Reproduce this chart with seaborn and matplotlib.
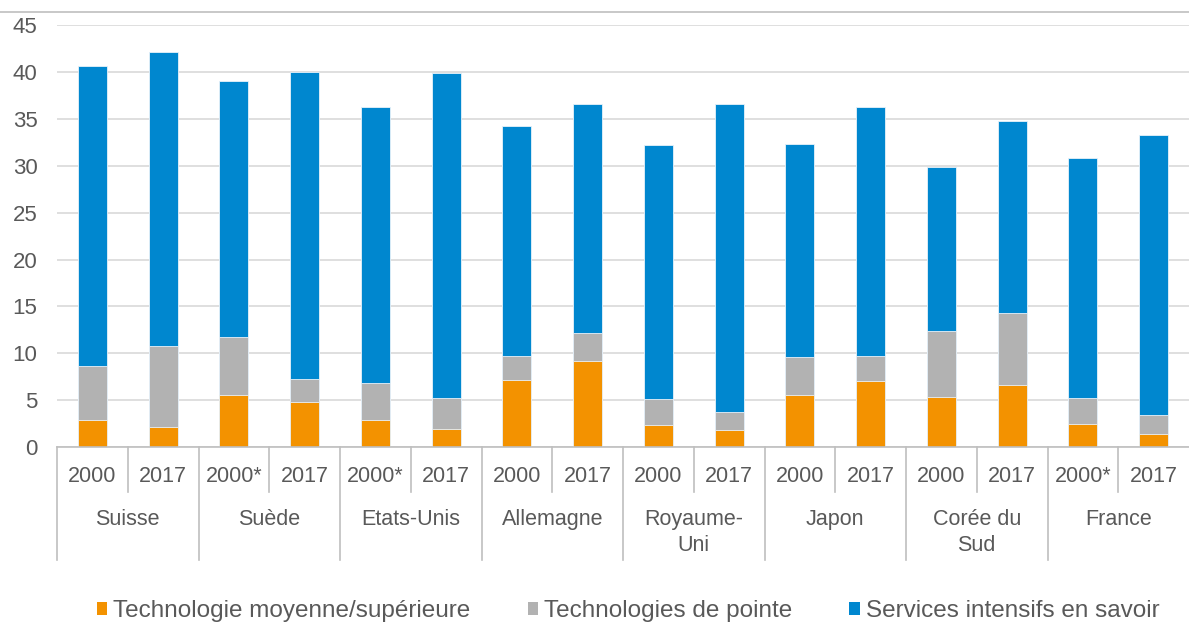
import numpy as np
import pandas as pd
import matplotlib
matplotlib.use("Agg")
import matplotlib.pyplot as plt
from matplotlib.lines import Line2D
from matplotlib.patches import Patch
import seaborn as sns

# Countries and the two years shown for each
countries = ["Suisse", "Suède", "Etats-Unis", "Allemagne", "Royaume-\nUni",
             "Japon", "Corée du\nSud", "France"]
years = ["2000", "2017", "2000*", "2017", "2000*", "2017", "2000", "2017",
         "2000", "2017", "2000", "2017", "2000", "2017", "2000*", "2017"]

# Segment values (share, %), one entry per bar
tech_moy_sup = [2.9, 2.1, 5.5, 4.8, 2.9, 1.9, 7.1, 9.2,
                2.4, 1.8, 5.6, 7.0, 5.3, 6.6, 2.5, 1.4]
tech_pointe = [5.7, 8.7, 6.2, 2.5, 3.9, 3.3, 2.6, 3.0,
               2.7, 1.9, 4.0, 2.7, 7.1, 7.7, 2.7, 2.0]
services = [32.1, 31.4, 27.4, 32.7, 29.5, 34.7, 24.6, 24.4,
            27.1, 32.9, 22.7, 26.6, 17.5, 20.5, 25.6, 29.9]

series_names = ["Technologie moyenne/supérieure", "Technologies de pointe",
                "Services intensifs en savoir"]
colors = ["#F39200", "#B2B2B2", "#0087CF"]
text_color = "#595959"

plt.rcParams["font.family"] = ["Liberation Sans", "DejaVu Sans"]

keys = [f"{c}|{y}|{i}" for i, (c, y) in
        enumerate(zip(np.repeat(countries, 2), years))]
layers = np.array([tech_moy_sup, tech_pointe, services])
cum = np.cumsum(layers, axis=0)

W, H = 1189, 622
top_px, base_px, left_px = 25.3, 447, 57
fig = plt.figure(figsize=(W / 100, H / 100), dpi=100)
ax = fig.add_axes([left_px / W, 1 - base_px / H, 1 - left_px / W,
                   (base_px - top_px) / H])

# Stacked bars: draw the cumulative totals from the top layer down
for level in (2, 1, 0):
    df = pd.DataFrame({"bar": keys, "value": cum[level]})
    sns.barplot(data=df, x="bar", y="value", order=keys, color=colors[level],
                saturation=1, width=0.41, edgecolor="#E8F2FA", linewidth=0.6,
                ax=ax, zorder=3)

ax.set_ylim(0, 45)
ax.set_xlim(-0.5, len(keys) - 0.5)
ax.set_yticks(np.arange(0, 46, 5))
ax.yaxis.grid(True, color="#D9D9D9", linewidth=1.2, zorder=0)
ax.set_axisbelow(True)
for s in ("left", "right", "top"):
    ax.spines[s].set_visible(False)
ax.spines["bottom"].set_color("#BFBFBF")
ax.spines["bottom"].set_linewidth(1.2)
ax.spines["bottom"].set_zorder(4)
ax.tick_params(axis="y", length=0, labelsize=16, labelcolor=text_color, pad=14)
ax.set_xticks([])
ax.set_xlabel("")
ax.set_ylabel("")

# Two-level category axis, positioned in pixels below the baseline
trans = ax.get_xaxis_transform()
axh = base_px - top_px


def fy(px):
    return (base_px - px) / axh


sep_kw = dict(color="#BFBFBF", linewidth=1.2, transform=trans, clip_on=False)
for i, y in enumerate(years):
    ax.text(i, fy(476), y, ha="center", va="center", fontsize=15.5,
            color=text_color, transform=trans)
for b in range(len(years)):
    x = b - 0.5
    bottom = fy(560) if b % 2 == 0 else fy(492)
    ax.add_line(Line2D([x, x], [0, bottom], **sep_kw))
for j, c in enumerate(countries):
    ax.text(2 * j + 0.5, fy(509), c, ha="center", va="top", fontsize=15.5,
            color=text_color, transform=trans, linespacing=1.3)

# Frame line across the top of the figure
fig.add_artist(Line2D([0, 1], [1 - 12 / H, 1 - 12 / H], color="#BFBFBF",
                      linewidth=1.2, transform=fig.transFigure))

handles = [Patch(facecolor=col, edgecolor="none") for col in colors]
fig.legend(handles, series_names, loc="center left", ncol=3,
           bbox_to_anchor=(97 / W, 1 - 611 / H), frameon=False, fontsize=17.5,
           labelcolor=text_color, handlelength=0.42, handleheight=0.42,
           handletextpad=0.25, columnspacing=2.35, borderpad=0,
           borderaxespad=0)

fig.savefig("out.png", dpi=100)
